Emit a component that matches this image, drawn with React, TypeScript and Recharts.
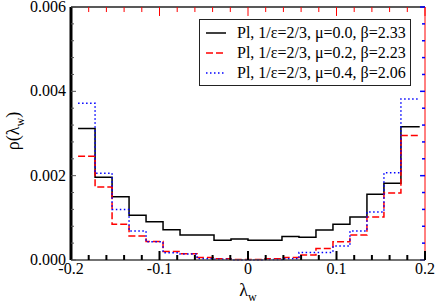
import React from 'react';
import { ComposedChart, Line, XAxis, YAxis, ReferenceLine } from 'recharts';

// histogram bin edges (lambda_w)
const binEdges = [
  -0.192, -0.1728, -0.1536, -0.1344, -0.1152, -0.096, -0.0768, -0.0576, -0.0384, -0.0192,
  0, 0.0192, 0.0384, 0.0576, 0.0768, 0.096, 0.1152, 0.1344, 0.1536, 0.1728, 0.194,
];

// rho per bin (20 bins)
const rhoMu00 = [
  0.00312, 0.00196, 0.0015, 0.00106, 0.00091, 0.00072, 0.00059, 0.00059, 0.00047, 0.0005,
  0.00047, 0.00047, 0.00056, 0.00054, 0.00071, 0.00085, 0.00102, 0.00156, 0.00182, 0.00316,
];
const rhoMu02 = [
  0.00246, 0.00173, 0.00085, 0.00057, 0.00044, 0.0002, 0.00015, 0.00006, 0.00003, 0.00001,
  0.00001, 0.00003, 0.00006, 0.00012, 0.00027, 0.00043, 0.00059, 0.00102, 0.00159, 0.00295,
];
const rhoMu04 = [
  0.00372, 0.00206, 0.0012, 0.00069, 0.00043, 0.00017, 0.00014, 0.00003, 0.00002, 0.0,
  0.0, 0.00001, 0.00003, 0.00018, 0.00018, 0.00033, 0.00069, 0.00114, 0.00207, 0.00382,
];

const seriesNames = [
  'Pl, 1/ε=2/3, μ=0.0, β=2.33',
  'Pl, 1/ε=2/3, μ=0.2, β=2.23',
  'Pl, 1/ε=2/3, μ=0.4, β=2.06',
];

const xMajorTicks = [-0.2, -0.1, 0, 0.1, 0.2];
const xTicks = [
  -0.2, -0.18, -0.16, -0.14, -0.12, -0.1, -0.08, -0.06, -0.04, -0.02, 0,
  0.02, 0.04, 0.06, 0.08, 0.1, 0.12, 0.14, 0.16, 0.18, 0.2,
];
const yMajorTicks = [0, 0.002, 0.004, 0.006];
const yTicks = [
  0, 0.0004, 0.0008, 0.0012, 0.0016, 0.002, 0.0024, 0.0028, 0.0032, 0.0036, 0.004,
  0.0044, 0.0048, 0.0052, 0.0056, 0.006,
];

// stepAfter needs a closing point at the last edge
const data = binEdges.map((x, i) => {
  const k = Math.min(i, rhoMu00.length - 1);
  return { x, a: rhoMu00[k], b: rhoMu02[k], c: rhoMu04[k] };
});

const FONT = 'Liberation Serif, Times New Roman, serif';
const OFF = 8; // default tickSize + tickMargin

const isMajor = (v: number, majors: number[]) => majors.some((m) => Math.abs(m - v) < 1e-9);
const fmtX = (v: number) => (Math.abs(v) < 1e-9 ? '0' : String(v));

// inward ticks drawn from the label anchor back to the axis line
const renderXTick = (p: any) => {
  const x = Number(p.x);
  const y = Number(p.y);
  const major = isMajor(p.payload.value, xMajorTicks);
  const len = major ? 9 : 5;
  return (
    <g>
      <path d={`M${x},${y - OFF}v${-len}`} stroke="#000000" strokeWidth={2} />
      {major && (
        <text x={x} y={y + 6} textAnchor="middle" fontFamily={FONT} fontSize={16} fill="#000">
          {fmtX(p.payload.value)}
        </text>
      )}
    </g>
  );
};

const renderYTick = (p: any) => {
  const x = Number(p.x);
  const y = Number(p.y);
  const major = isMajor(p.payload.value, yMajorTicks);
  const len = major ? 5 : 3;
  return (
    <g>
      <path d={`M${x + OFF},${y}h${len}`} stroke="#555555" strokeWidth={1} />
      {major && (
        <text x={x + 3} y={y + 5} textAnchor="end" fontFamily={FONT} fontSize={16} fill="#000">
          {p.payload.value.toFixed(3)}
        </text>
      )}
    </g>
  );
};

const legendRows = [
  { name: seriesNames[0], color: '#000000', dash: undefined },
  { name: seriesNames[1], color: '#ff0000', dash: '7 3' },
  { name: seriesNames[2], color: '#0000ff', dash: '1.5 2.5' },
];

const LegendBox = () => (
  <div
    style={{
      position: 'absolute',
      left: 199,
      top: 19,
      width: 210,
      height: 65,
      border: '1.5px solid #222',
      background: '#fff',
      fontFamily: FONT,
      fontSize: 16,
      color: '#000',
    }}
  >
    {legendRows.map((r, i) => (
      <div key={i} style={{ display: 'flex', alignItems: 'center', height: 20, marginTop: i === 0 ? 3 : 0 }}>
        <svg width={37} height={20} style={{ flex: 'none' }}>
          <line x1={6} y1={10} x2={26} y2={10} stroke={r.color} strokeWidth={1.5} strokeDasharray={r.dash} />
        </svg>
        <span style={{ whiteSpace: 'nowrap' }}>{r.name}</span>
      </div>
    ))}
  </div>
);

const titleStyle: React.CSSProperties = {
  position: 'absolute',
  fontFamily: FONT,
  fontSize: 18,
  lineHeight: '18px',
  whiteSpace: 'nowrap',
  color: '#000',
};

const Sub = ({ children }: { children: React.ReactNode }) => (
  <span style={{ fontSize: 12, position: 'relative', top: 5 }}>{children}</span>
);

// tick lengths in data units for the mirrored top/right ticks
const topLen = (t: number) => (isMajor(t, xMajorTicks) ? 0.000213 : 0.000119);
const rightLen = (v: number) => (isMajor(v, yMajorTicks) ? 0.0056 : 0.0034);

export default function App() {
  return (
    <div style={{ position: 'absolute', left: 0, top: 0, width: 436, height: 306 }}>
      <ComposedChart width={436} height={306} data={data} margin={{ top: 7, right: 11, bottom: 0, left: 0 }}>
        <XAxis
          dataKey="x"
          type="number"
          domain={[-0.2, 0.2]}
          ticks={xTicks}
          interval={0}
          height={46}
          stroke="#444444"
          strokeWidth={1.5}
          tickLine={{ stroke: 'none' }}
          tick={renderXTick}
        />
        <YAxis
          type="number"
          domain={[0, 0.006]}
          ticks={yTicks}
          interval={0}
          width={71}
          stroke="#000000"
          strokeWidth={3}
          tickLine={{ stroke: 'none' }}
          tick={renderYTick}
        />
        <ReferenceLine y={0.006} stroke="#222222" strokeWidth={1.5} />
        <ReferenceLine x={0.2} stroke="#ff0000" strokeWidth={1} />
        {xTicks.map((t) => (
          <ReferenceLine
            key={`tt${t}`}
            segment={[{ x: t, y: 0.006 }, { x: t, y: 0.006 - topLen(t) }]}
            stroke="#ff0000"
            strokeWidth={1}
          />
        ))}
        {yTicks.map((v) => (
          <ReferenceLine
            key={`rt${v}`}
            segment={[{ x: 0.2, y: v }, { x: 0.2 - rightLen(v), y: v }]}
            stroke="#0000ff"
            strokeWidth={1.5}
          />
        ))}
        <Line type="stepAfter" dataKey="a" name={seriesNames[0]} stroke="#000" strokeWidth={1.5} dot={false} isAnimationActive={false} />
        <Line type="stepAfter" dataKey="b" name={seriesNames[1]} stroke="#ff0000" strokeWidth={1.5} strokeDasharray="7 3" dot={false} isAnimationActive={false} />
        <Line type="stepAfter" dataKey="c" name={seriesNames[2]} stroke="#0000ff" strokeWidth={1.5} strokeDasharray="1.5 2.5" dot={false} isAnimationActive={false} />
      </ComposedChart>
      <LegendBox />
      <div style={{ ...titleStyle, left: 248, top: 281, transform: 'translateX(-50%)' }}>
        λ<Sub>w</Sub>
      </div>
      <div style={{ ...titleStyle, left: 14, top: 131, transform: 'translate(-50%, -50%) rotate(-90deg)' }}>
        ρ(λ<Sub>w</Sub>)
      </div>
    </div>
  );
}
